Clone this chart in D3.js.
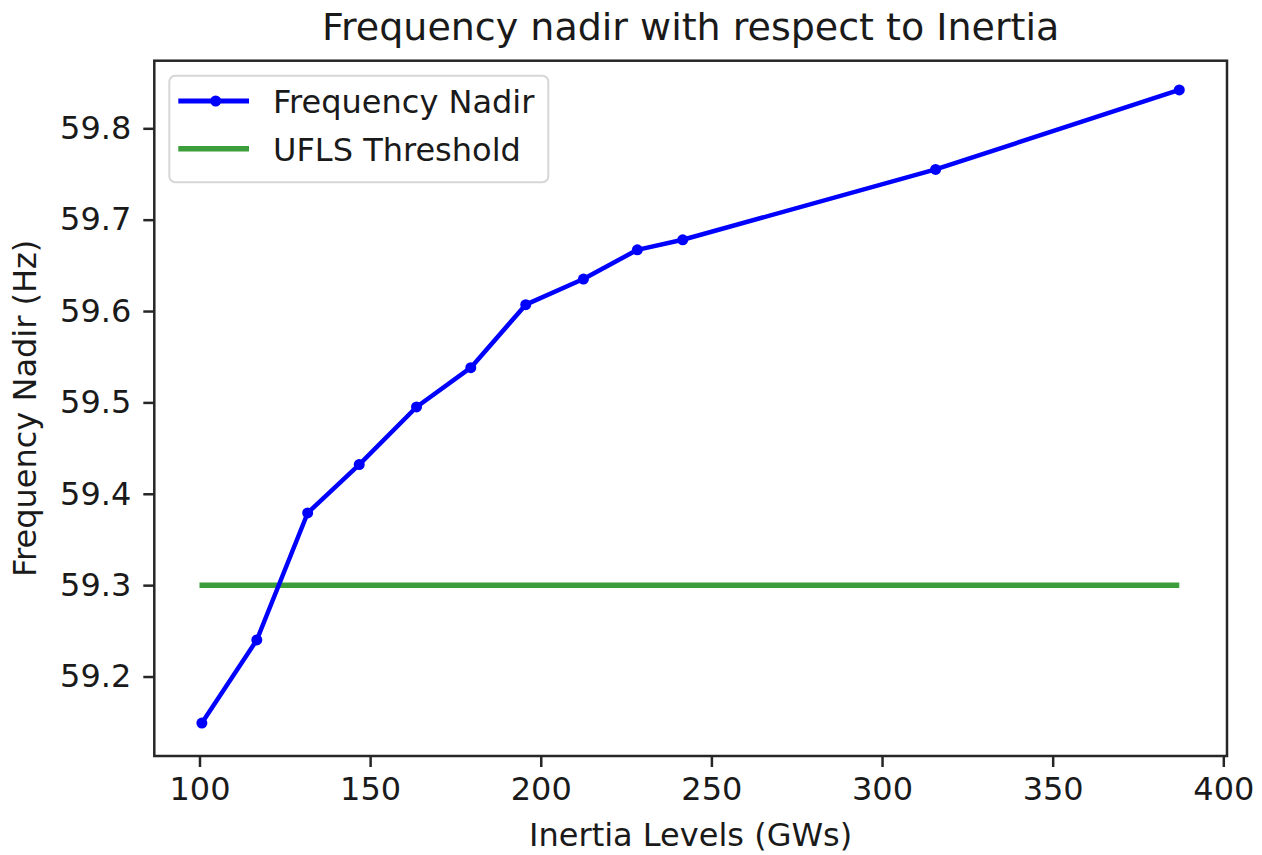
<!DOCTYPE html>
<html>
<head>
<meta charset="utf-8">
<script src="https://cdn.jsdelivr.net/npm/d3@7"></script>
<style>
  body { margin: 0; background: #fff; }
  text { font-family: "DejaVu Sans", sans-serif; fill: #1a1a1a; }
</style>
</head>
<body>
<div id="chart"></div>
<script>
// data
const inertia = [100.7, 116.8, 131.7, 146.8, 163.6, 179.5, 195.6, 212.5, 228.3, 241.6, 315.7, 387.1];
const nadir = [59.149, 59.240, 59.379, 59.432, 59.495, 59.538, 59.607, 59.635, 59.667, 59.678, 59.755, 59.842];
const thresholdX = [100, 387.1];
const thresholdY = [59.3, 59.3];
const xTicks = [100, 150, 200, 250, 300, 350, 400];
const yTicks = [59.2, 59.3, 59.4, 59.5, 59.6, 59.7, 59.8];

const width = 1262;
const height = 855;
const plotLeft = 154.3, plotRight = 1227, plotTop = 60.7, plotBottom = 756;

let svg = d3.select("#chart")
    .append("svg")
    .attr("width", width)
    .attr("height", height);

svg.append("rect").attr("width", width).attr("height", height).attr("fill", "#fff");

//scales (domains include matplotlib's 5% margins)
let xScale = d3.scaleLinear().domain([86.76, 401.08]).range([plotLeft, plotRight]);
let yScale = d3.scaleLinear().domain([59.113, 59.874]).range([plotBottom, plotTop]);

//axes
let xAxis = svg.append("g")
    .attr("transform", "translate(0," + plotBottom + ")")
    .call(d3.axisBottom(xScale).tickValues(xTicks).tickSize(11).tickSizeOuter(0).tickPadding(10));
let yAxis = svg.append("g")
    .attr("transform", "translate(" + plotLeft + ",0)")
    .call(d3.axisLeft(yScale).tickValues(yTicks).tickFormat(d3.format(".1f")).tickSize(11).tickSizeOuter(0).tickPadding(12));

[xAxis, yAxis].forEach(a => {
    a.select(".domain").remove();
    a.selectAll(".tick line").attr("stroke", "#262626").attr("stroke-width", 2.5);
    a.selectAll(".tick text").attr("font-size", 32).attr("font-family", "DejaVu Sans").attr("fill", "#1a1a1a");
});

//threshold line
let line = d3.line().x(d => xScale(d[0])).y(d => yScale(d[1]));
svg.append("path")
    .datum(d3.zip(thresholdX, thresholdY))
    .attr("d", line)
    .attr("fill", "none")
    .attr("stroke", "#3b9e3b")
    .attr("stroke-width", 5.5);

//nadir line + markers
svg.append("path")
    .datum(d3.zip(inertia, nadir))
    .attr("d", line)
    .attr("fill", "none")
    .attr("stroke", "#0000ff")
    .attr("stroke-width", 4.5)
    .attr("stroke-linejoin", "round");

svg.selectAll(".pt")
    .data(d3.zip(inertia, nadir))
    .enter()
    .append("circle")
    .attr("class", "pt")
    .attr("cx", d => xScale(d[0]))
    .attr("cy", d => yScale(d[1]))
    .attr("r", 5.5)
    .attr("fill", "#0000ff");

//frame
svg.append("rect")
    .attr("x", plotLeft).attr("y", plotTop)
    .attr("width", plotRight - plotLeft).attr("height", plotBottom - plotTop)
    .attr("fill", "none")
    .attr("stroke", "#262626")
    .attr("stroke-width", 2.5);

//title and labels
svg.append("text")
    .attr("x", (plotLeft + plotRight) / 2).attr("y", 40)
    .attr("text-anchor", "middle")
    .attr("font-size", 38)
    .text("Frequency nadir with respect to Inertia");

svg.append("text")
    .attr("x", (plotLeft + plotRight) / 2).attr("y", 846)
    .attr("text-anchor", "middle")
    .attr("font-size", 32)
    .text("Inertia Levels (GWs)");

svg.append("text")
    .attr("transform", "translate(36," + (plotTop + plotBottom) / 2 + ") rotate(-90)")
    .attr("text-anchor", "middle")
    .attr("font-size", 32)
    .text("Frequency Nadir (Hz)");

//legend
let legend = svg.append("g");
legend.append("rect")
    .attr("x", 169.3).attr("y", 75.7)
    .attr("width", 379).attr("height", 106.6)
    .attr("rx", 6)
    .attr("fill", "#fff").attr("fill-opacity", 0.8)
    .attr("stroke", "#d6d6d6").attr("stroke-width", 2);

legend.append("line")
    .attr("x1", 178.3).attr("x2", 249).attr("y1", 101).attr("y2", 101)
    .attr("stroke", "#0000ff").attr("stroke-width", 5);
legend.append("circle")
    .attr("cx", 215.7).attr("cy", 101).attr("r", 5.5).attr("fill", "#0000ff");
legend.append("line")
    .attr("x1", 178.3).attr("x2", 249).attr("y1", 148.7).attr("y2", 148.7)
    .attr("stroke", "#3b9e3b").attr("stroke-width", 5.5);

legend.append("text").attr("x", 273).attr("y", 113).attr("font-size", 32).text("Frequency Nadir");
legend.append("text").attr("x", 273).attr("y", 160.5).attr("font-size", 32).text("UFLS Threshold");
</script>
</body>
</html>
